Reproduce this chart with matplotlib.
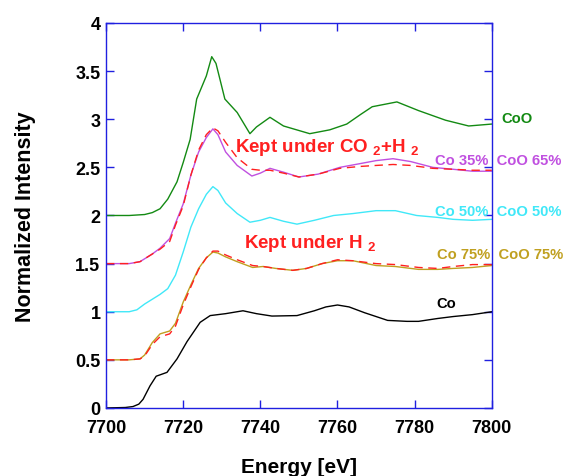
import numpy as np
import matplotlib
matplotlib.use('Agg')
import matplotlib.pyplot as plt

plt.rcParams['font.family'] = ['Liberation Sans', 'DejaVu Sans']
plt.rcParams['mathtext.fontset'] = 'custom'
plt.rcParams['mathtext.rm'] = 'Liberation Sans'
plt.rcParams['mathtext.bf'] = 'Liberation Sans:bold'

# Co foil
co_x = [7700, 7705, 7707, 7708.5, 7709.6, 7711.4, 7713, 7715.8, 7718.4, 7721, 7724.4, 7727,
        7731, 7735.5, 7739, 7743, 7749.5, 7754, 7757, 7760, 7763, 7767, 7773, 7778, 7781,
        7786, 7790, 7795, 7800]
co_y = [0.0, 0.005, 0.015, 0.04, 0.09, 0.23, 0.33, 0.37, 0.51, 0.69, 0.89, 0.96,
        0.98, 1.01, 0.98, 0.955, 0.96, 1.01, 1.05, 1.07, 1.05, 0.99, 0.91, 0.90, 0.90,
        0.93, 0.95, 0.97, 1.0]

# Co 75% / CoO 25% reference and sample kept under H2
e1 = [7700, 7706, 7708.8, 7710, 7712, 7714, 7716.5, 7718, 7720, 7722, 7724, 7726, 7727.7,
      7729, 7731, 7734, 7738, 7740.7, 7744, 7748.4, 7752, 7756, 7760, 7764, 7770, 7775,
      7781, 7786, 7790, 7795, 7800]
co75_y = [0.5, 0.5, 0.51, 0.55, 0.68, 0.77, 0.80, 0.88, 1.10, 1.28, 1.45, 1.56, 1.62,
          1.61, 1.57, 1.52, 1.46, 1.47, 1.45, 1.43, 1.45, 1.50, 1.53, 1.53, 1.48, 1.47,
          1.44, 1.44, 1.45, 1.46, 1.48]
h2_y = [0.5, 0.5, 0.51, 0.54, 0.66, 0.74, 0.77, 0.85, 1.07, 1.26, 1.44, 1.56, 1.63,
        1.63, 1.59, 1.54, 1.48, 1.47, 1.45, 1.43, 1.45, 1.50, 1.54, 1.53, 1.50, 1.49,
        1.46, 1.45, 1.47, 1.49, 1.49]

# Co 50% / CoO 50%
e2 = [7700, 7706, 7708, 7710, 7712, 7714, 7716, 7718, 7720, 7722, 7724, 7726, 7727.7,
      7729, 7731, 7734, 7737.3, 7740, 7742.5, 7746, 7749.5, 7754, 7759, 7764, 7770, 7775,
      7780.5, 7786, 7790, 7795, 7800]
co50_y = [1.0, 1.0, 1.02, 1.08, 1.13, 1.18, 1.24, 1.38, 1.62, 1.88, 2.07, 2.22, 2.30,
          2.26, 2.13, 2.02, 1.93, 1.95, 1.98, 1.94, 1.91, 1.95, 2.0, 2.02, 2.05, 2.05,
          2.0, 1.98, 1.96, 1.95, 1.96]

# Co 35% / CoO 65% reference and sample kept under CO2+H2
e3 = [7700, 7706, 7708.8, 7710, 7712, 7714, 7716.5, 7718, 7720, 7722, 7724, 7726, 7727.7,
      7729, 7731, 7734, 7737.8, 7740, 7742.5, 7746, 7750, 7755, 7760.6, 7766, 7770, 7774.4,
      7779, 7784.7, 7790, 7795, 7800]
co35_y = [1.5, 1.5, 1.52, 1.55, 1.6, 1.66, 1.76, 1.92, 2.12, 2.42, 2.66, 2.81, 2.90,
          2.84, 2.66, 2.52, 2.41, 2.44, 2.49, 2.45, 2.40, 2.43, 2.50, 2.54, 2.57, 2.59,
          2.56, 2.50, 2.48, 2.46, 2.46]
co2h2_y = [1.5, 1.5, 1.52, 1.55, 1.6, 1.65, 1.73, 1.90, 2.10, 2.42, 2.68, 2.84, 2.91,
           2.88, 2.76, 2.60, 2.48, 2.47, 2.47, 2.44, 2.40, 2.43, 2.49, 2.51, 2.52, 2.53,
           2.52, 2.49, 2.48, 2.47, 2.47]

# CoO
coo_x = [7700, 7706, 7710, 7712, 7714, 7716, 7718.4, 7720, 7721.8, 7723.5, 7726, 7727.4,
         7728.5, 7729.5, 7730.8, 7734, 7737.3, 7739, 7742.5, 7746, 7752.8, 7758, 7762.4,
         7766, 7769, 7775.4, 7781, 7788, 7794, 7800]
coo_y = [2.0, 2.0, 2.01, 2.03, 2.07, 2.17, 2.35, 2.55, 2.79, 3.21, 3.45, 3.65,
         3.58, 3.42, 3.21, 3.07, 2.85, 2.92, 3.02, 2.93, 2.85, 2.89, 2.95,
         3.05, 3.13, 3.18, 3.09, 2.99, 2.93, 2.95]

green = '#138a13'
violet = '#c050e0'
cyan = '#40e8f8'
gold = '#c0a020'
red = '#ff2020'
blue = '#2020e0'

fig = plt.figure(figsize=(5.64, 4.77), dpi=100)
ax = fig.add_axes([0.188, 0.1426, 0.684, 0.8071])

ax.plot(co_x, co_y, c='black', lw=1.0)
ax.plot(e1, co75_y, c=gold, lw=1.0)
ax.plot(e1, h2_y, c=red, lw=1.0, ls=(0, (6, 4)))
ax.plot(e2, co50_y, c=cyan, lw=1.0)
ax.plot(e3, co35_y, c=violet, lw=1.0)
ax.plot(e3, co2h2_y, c=red, lw=1.0, ls=(0, (6, 4)))
ax.plot(coo_x, coo_y, c=green, lw=1.0)

ax.set_xlim(7700, 7800)
ax.set_ylim(0, 4)
ax.set_xticks(np.arange(7700, 7801, 20))
ax.set_yticks(np.arange(0, 4.01, 0.5))
ax.set_yticklabels(['0', '0.5', '1', '1.5', '2', '2.5', '3', '3.5', '4'])
ax.tick_params(direction='in', length=6, width=1, color=blue, top=True, right=True,
               labelsize=13, pad=4)
ax.tick_params(axis='x', pad=8)
for lab in ax.get_xticklabels() + ax.get_yticklabels():
    lab.set_fontweight('bold')
for s in ax.spines.values():
    s.set_color(blue)
    s.set_linewidth(1.0)

ax.set_xlabel('Energy [eV]', fontsize=15, fontweight='bold', labelpad=15)
ax.set_ylabel('Normalized Intensity', fontsize=15.5, fontweight='bold', labelpad=28)

lab_kw = dict(fontsize=10.6, fontweight='bold', clip_on=False, va='center')
ax.text(7802.5, 3.01, 'CoO', color=green, **lab_kw)
ax.text(7785.2, 2.58, 'Co 35%  CoO 65%', color=violet, **lab_kw)
ax.text(7785.2, 2.05, 'Co 50%  CoO 50%', color=cyan, **lab_kw)
ax.text(7785.7, 1.60, 'Co 75%  CoO 75%', color=gold, **lab_kw)
ax.text(7785.7, 1.09, 'Co', color='black', **lab_kw)

ax.text(7733.4, 2.72, r'Kept under CO $_\mathbf{2}$+H $_\mathbf{2}$', color=red,
        fontsize=13.5, fontweight='bold', va='center')
ax.text(7735.8, 1.72, r'Kept under H $_\mathbf{2}$', color=red,
        fontsize=13.5, fontweight='bold', va='center')

fig.savefig('out.png', dpi=100)
